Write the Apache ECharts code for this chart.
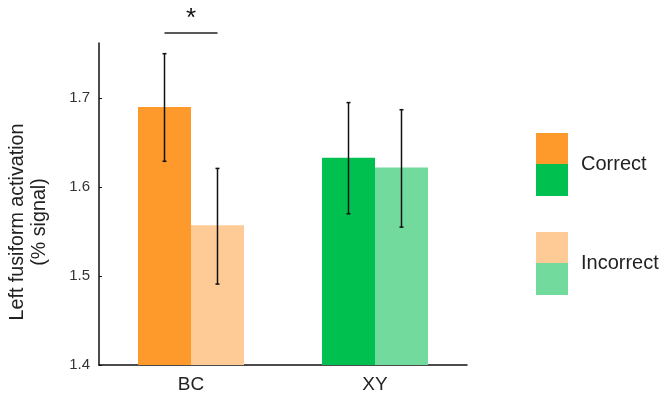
<!DOCTYPE html>
<html><head><meta charset="utf-8">
<script src="https://cdn.jsdelivr.net/npm/echarts@6/dist/echarts.min.js"></script>
<style>html,body{margin:0;padding:0;background:#fff}#c{width:663px;height:400px}</style>
</head><body><div id="c"></div>
<script>
const categories = ['BC', 'XY'];
const correctValues = [1.690, 1.633];
const incorrectValues = [1.557, 1.622];
const correctErrLow = [1.629, 1.570];
const correctErrHigh = [1.750, 1.695];
const incorrectErrLow = [1.491, 1.555];
const incorrectErrHigh = [1.621, 1.687];
const yTicks = [1.4, 1.5, 1.6, 1.7];
const correctColors = ['#FD9A2B', '#00C150'];
const incorrectColors = ['#FECB97', '#73DA9D'];

const chart = echarts.init(document.getElementById('c'));
const FONT = 'Liberation Sans, Arial, sans-serif';
const BARW = 0.288;

function errSeries(lo, hi, dir) {
  return {
    type: 'custom',
    data: categories.map((c, i) => [i, lo[i], hi[i]]),
    encode: { x: 0, y: [1, 2] },
    z: 10,
    renderItem: function (params, api) {
      const band = api.size([1, 0])[0];
      const off = dir * band * BARW / 2;
      const p1 = api.coord([api.value(0), api.value(1)]);
      const p2 = api.coord([api.value(0), api.value(2)]);
      const x = p1[0] + off;
      const cap = 2;
      const st = { stroke: '#111', lineWidth: 1.5 };
      return { type: 'group', children: [
        { type: 'line', shape: { x1: x, y1: p1[1], x2: x, y2: p2[1] }, style: st },
        { type: 'line', shape: { x1: x - cap, y1: p1[1], x2: x + cap, y2: p1[1] }, style: st },
        { type: 'line', shape: { x1: x - cap, y1: p2[1], x2: x + cap, y2: p2[1] }, style: st }
      ]};
    }
  };
}

chart.setOption({
  animation: false,
  grid: { left: 99, right: 196, top: 43, bottom: 35, containLabel: false, outerBoundsMode: 'none' },
  xAxis: {
    type: 'category', data: categories,
    axisLine: { lineStyle: { color: '#111', width: 1.5 } },
    axisTick: { inside: true, length: 3, alignWithLabel: true, lineStyle: { color: '#111' } },
    axisLabel: { color: '#222', fontSize: 19, fontFamily: FONT, margin: 10 }
  },
  yAxis: {
    type: 'value', min: 1.4, max: 1.762, interval: 0.1,
    name: 'Left fusiform activation\n(% signal)',
    nameLocation: 'middle', nameGap: 48, nameRotate: 90,
    nameTextStyle: { color: '#222', fontSize: 19.7, fontFamily: FONT, lineHeight: 22, padding: [0, 36, 0, 0] },
    splitLine: { show: false },
    axisLine: { show: true, lineStyle: { color: '#111', width: 1.5 } },
    axisTick: { show: true, inside: true, length: 3, lineStyle: { color: '#111' } },
    axisLabel: { color: '#333', fontSize: 15, fontFamily: FONT, margin: 9, showMaxLabel: false,
      formatter: v => yTicks.some(t => Math.abs(t - v) < 1e-6) ? v.toFixed(1) : '' }
  },
  series: [
    { name: 'Correct', type: 'bar', barWidth: (BARW * 100) + '%', barGap: '0%',
      data: correctValues.map((v, i) => ({ value: v, itemStyle: { color: correctColors[i] } })) },
    { name: 'Incorrect', type: 'bar', barWidth: (BARW * 100) + '%', barGap: '0%',
      data: incorrectValues.map((v, i) => ({ value: v, itemStyle: { color: incorrectColors[i] } })) },
    errSeries(correctErrLow, correctErrHigh, -1),
    errSeries(incorrectErrLow, incorrectErrHigh, 1)
  ]
});

// significance marker and legend
const c0 = chart.convertToPixel({ xAxisIndex: 0 }, 0);
const band = chart.convertToPixel({ xAxisIndex: 0 }, 1) - c0;
const xa = c0 - band * BARW / 2, xb = c0 + band * BARW / 2;
chart.setOption({
  graphic: [
    { type: 'line', shape: { x1: xa, y1: 33, x2: xb, y2: 33 }, style: { stroke: '#222', lineWidth: 1.5 } },
    { type: 'text', x: (xa + xb) / 2, y: 19, style: { text: '*', fill: '#111', fontSize: 26, fontFamily: FONT, align: 'center', verticalAlign: 'middle' } },
    { type: 'rect', shape: { x: 536, y: 133, width: 32, height: 31 }, style: { fill: correctColors[0] } },
    { type: 'rect', shape: { x: 536, y: 164, width: 32, height: 32 }, style: { fill: correctColors[1] } },
    { type: 'text', x: 581, y: 164, style: { text: 'Correct', fill: '#222', fontSize: 20, fontFamily: FONT, verticalAlign: 'middle' } },
    { type: 'rect', shape: { x: 536, y: 232, width: 32, height: 31 }, style: { fill: incorrectColors[0] } },
    { type: 'rect', shape: { x: 536, y: 263, width: 32, height: 32 }, style: { fill: incorrectColors[1] } },
    { type: 'text', x: 581, y: 263, style: { text: 'Incorrect', fill: '#222', fontSize: 20, fontFamily: FONT, verticalAlign: 'middle' } }
  ]
});
</script></body></html>
